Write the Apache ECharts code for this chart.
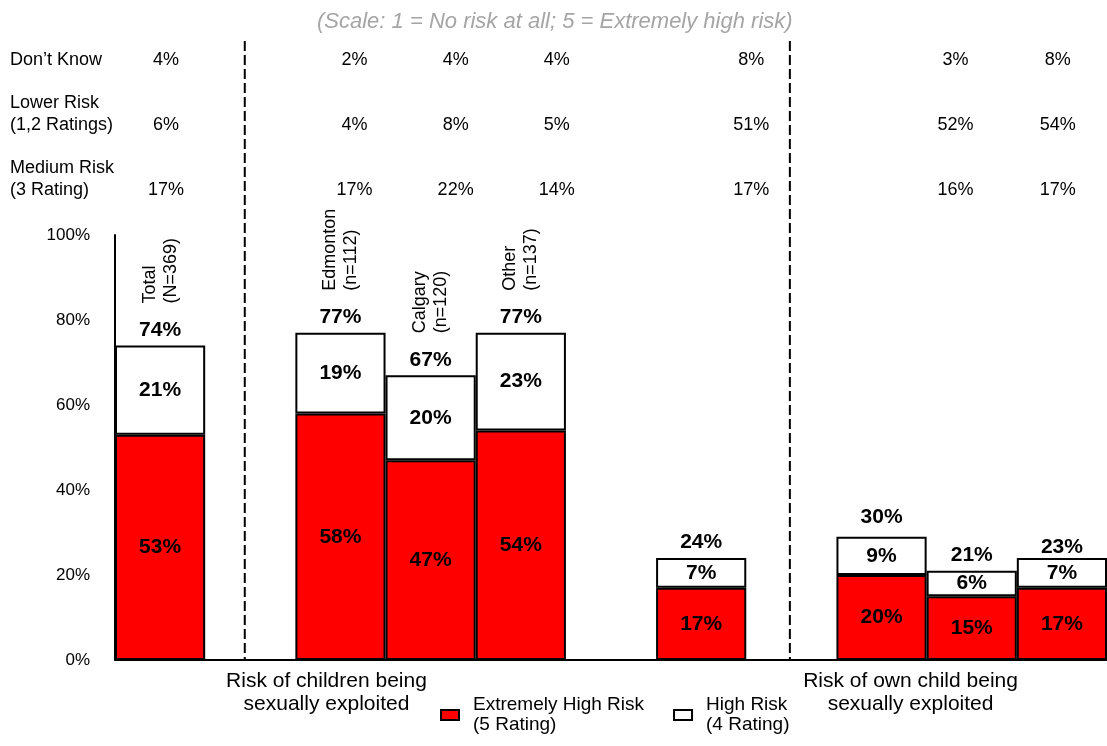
<!DOCTYPE html>
<html><head><meta charset="utf-8">
<script src="https://cdn.jsdelivr.net/npm/echarts@6/dist/echarts.min.js"></script>
<style>html,body{margin:0;padding:0;background:#fff}#c{width:1107px;height:746px}</style>
</head><body><div id="c"></div>
<script>
// ---------- data ----------
const categories = ['Total', 'gap1', 'Edmonton', 'Calgary', 'Other', 'gap2', 'Own child: Total', 'gap3', 'Own child: Edmonton', 'Own child: Calgary', 'Own child: Other'];
const barNames = ['Total\n(N=369)', '', 'Edmonton\n(n=112)', 'Calgary\n(n=120)', 'Other\n(n=137)', '', '', '', '', '', ''];
const extremelyHigh = [53, null, 58, 47, 54, null, 17, null, 20, 15, 17];
const highRisk      = [21, null, 19, 20, 23, null, 7, null, 9, 6, 7];
const totalHigh     = [74, null, 77, 67, 77, null, 24, null, 30, 21, 23];
const dontKnow   = [4, null, 2, 4, 4, null, 8, null, 3, 8, null];
const lowerRisk  = [6, null, 4, 8, 5, null, 51, null, 52, 54, null];
const mediumRisk = [17, null, 17, 22, 14, null, 17, null, 16, 17, null];
const tableRows = ['Don\u2019t Know', 'Lower Risk\n(1,2 Ratings)\n', 'Medium Risk\n(3 Rating)\n'];
const groupLabels = ['Risk of children being\nsexually exploited', 'Risk of own child being\nsexually exploited'];
const seriesNames = ['Extremely High Risk\n(5 Rating)', 'High Risk\n(4 Rating)'];
const subtitle = '(Scale: 1 = No risk at all; 5 = Extremely high risk)';

// ---------- layout / style ----------
const FONT = 'Liberation Sans, Arial, sans-serif';
const layout = {
  tableShift: {0: 6, 2: 14, 3: 25, 4: 36, 6: 50, 8: 74, 9: 86},
  groupAnchor: [{cat: 2, dx: -14}, {cat: 8, dx: 29}],
  dividers: [{cat: 1, dx: -5.5}, {cat: 7, dx: -1.5}]
};

const tableData = [];
[dontKnow, lowerRisk, mediumRisk].forEach((row, r) => {
  row.forEach((v, i) => {
    if (v == null) return;
    tableData.push({value: [i, r], v: v, label: {offset: [layout.tableShift[i] || 0, 0]}});
  });
});
const totalPts = [];
const namePts = [];
totalHigh.forEach((v, i) => {
  if (v == null) return;
  totalPts.push({value: [i, v]});
  if (barNames[i]) namePts.push({value: [i, v], nm: barNames[i]});
});

const chart = echarts.init(document.getElementById('c'), null, {renderer: 'canvas'});
const boldLbl = {show: true, color: '#000', fontFamily: FONT, fontWeight: 'bold', fontSize: 21, formatter: p => p.value + '%'};
const hiddenSym = {color: 'transparent', opacity: 1};

chart.setOption({
  animation: false,
  backgroundColor: '#fff',
  title: {
    text: subtitle, left: 312, top: 6,
    textStyle: {fontFamily: FONT, fontStyle: 'italic', fontWeight: 'normal', fontSize: 22, color: '#a5a5a5'}
  },
  legend: {
    left: 440, top: 682, padding: 0, itemGap: 29, icon: 'rect', itemWidth: 18, itemHeight: 10,
    data: seriesNames,
    itemStyle: {borderColor: '#000', borderWidth: 2},
    textStyle: {fontFamily: FONT, fontSize: 19, color: '#000', lineHeight: 20, padding: [26, 0, 0, 9]}
  },
  grid: [
    {left: 115, width: 995, top: 235, height: 425},
    {left: 115, width: 995, top: 28, height: 195}
  ],
  xAxis: [
    {type: 'category', data: categories, gridIndex: 0,
     axisLine: {lineStyle: {color: '#000', width: 2}}, axisTick: {show: false}, axisLabel: {show: false}},
    {type: 'category', data: categories, gridIndex: 1, show: false}
  ],
  yAxis: [
    {type: 'value', gridIndex: 0, min: 0, max: 100, interval: 20,
     axisLine: {show: true, lineStyle: {color: '#000', width: 2}}, axisTick: {show: false}, splitLine: {show: false},
     axisLabel: {formatter: '{value}%', color: '#000', fontFamily: FONT, fontSize: 17, margin: 25}},
    {type: 'category', gridIndex: 1, data: tableRows, inverse: true,
     axisLine: {show: false}, axisTick: {show: false}, splitLine: {show: false},
     axisLabel: {interval: 0, align: 'left', margin: 105, color: '#000', fontFamily: FONT, fontSize: 18, lineHeight: 22}}
  ],
  series: [
    {name: seriesNames[0], type: 'bar', stack: 'a', data: extremelyHigh, barCategoryGap: '0%',
     itemStyle: {color: '#ff0000', borderColor: '#000', borderWidth: 2},
     label: Object.assign({position: 'inside'}, boldLbl)},
    {name: seriesNames[1], type: 'bar', stack: 'a', data: highRisk, barCategoryGap: '0%',
     itemStyle: {color: '#ffffff', borderColor: '#000', borderWidth: 2},
     label: Object.assign({position: 'inside'}, boldLbl)},
    {name: 'totals', type: 'scatter', data: totalPts, symbolSize: 0, silent: true,
     itemStyle: hiddenSym,
     label: Object.assign({}, boldLbl, {position: 'top', distance: 5, formatter: p => p.value[1] + '%'})},
    {name: 'names', type: 'scatter', data: namePts, symbolSize: 0, silent: true,
     itemStyle: hiddenSym,
     label: {show: true, position: 'top', distance: 42, rotate: 90, align: 'left', verticalAlign: 'middle',
             color: '#000', fontFamily: FONT, fontSize: 18, lineHeight: 21, formatter: p => p.data.nm}},
    {name: 'table', type: 'scatter', xAxisIndex: 1, yAxisIndex: 1, data: tableData, symbolSize: 0, silent: true,
     itemStyle: hiddenSym,
     label: {show: true, position: 'inside', color: '#000', fontFamily: FONT, fontSize: 18, formatter: p => p.data.v + '%'}}
  ]
});

// dividers and group labels positioned from the axis scale
const y0 = chart.convertToPixel({yAxisIndex: 0}, 0);
const graphics = [];
layout.dividers.forEach(d => {
  const x = chart.convertToPixel({xAxisIndex: 0}, d.cat) + d.dx;
  graphics.push({type: 'line', silent: true, shape: {x1: x, y1: 41, x2: x, y2: y0},
                 style: {stroke: '#000', lineWidth: 2, lineDash: [10, 4]}});
});
layout.groupAnchor.forEach((g, k) => {
  const x = chart.convertToPixel({xAxisIndex: 0}, g.cat) + g.dx;
  graphics.push({type: 'text', silent: true, x: x, y: y0 + 10,
                 style: {text: groupLabels[k], fill: '#000', fontFamily: FONT, fontSize: 21, lineHeight: 23,
                         align: 'center', verticalAlign: 'top'}});
});
chart.setOption({graphic: graphics});
</script>
</body></html>
